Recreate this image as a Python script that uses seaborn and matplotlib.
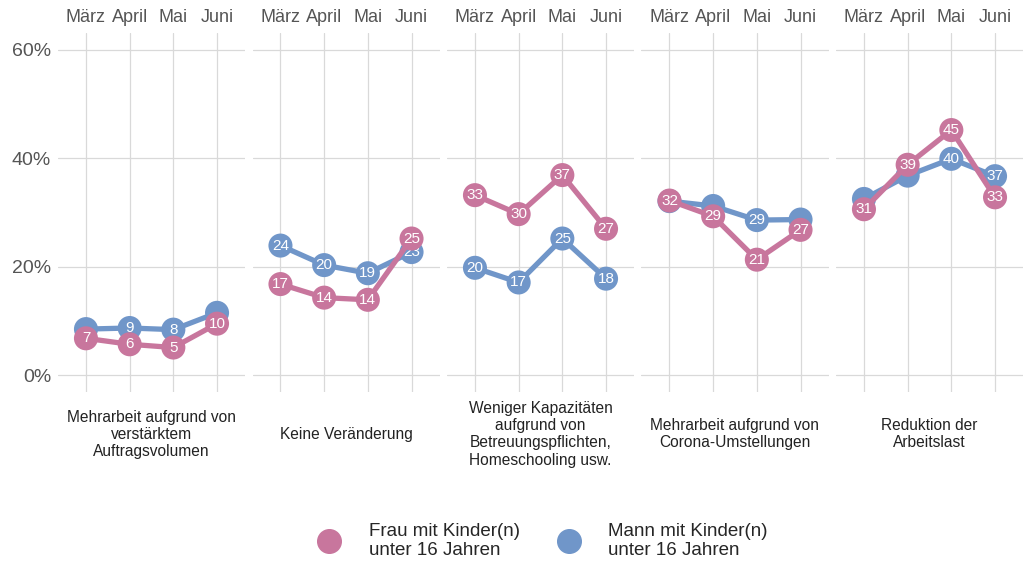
import pandas as pd
import seaborn as sns
import matplotlib.pyplot as plt
from matplotlib.lines import Line2D

# ------------------------------------------------------------
# Daten
# ------------------------------------------------------------
monate = ["März", "April", "Mai", "Juni"]
kategorien = [
    "Mehrarbeit aufgrund von\nverstärktem\nAuftragsvolumen",
    "Keine Veränderung",
    "Weniger Kapazitäten\naufgrund von\nBetreuungspflichten,\nHomeschooling usw.",
    "Mehrarbeit aufgrund von\nCorona-Umstellungen",
    "Reduktion der\nArbeitslast",
]
gruppen = ["Frau mit Kinder(n)\nunter 16 Jahren", "Mann mit Kinder(n)\nunter 16 Jahren"]

frau = [
    [6.8, 5.7, 5.1, 9.5],
    [16.8, 14.3, 13.9, 25.2],
    [33.2, 29.7, 36.9, 27.0],
    [32.2, 29.3, 21.3, 26.8],
    [30.6, 38.8, 45.2, 32.8],
]
mann = [
    [8.5, 8.7, 8.4, 11.5],
    [23.9, 20.3, 18.8, 22.7],
    [19.8, 17.1, 25.2, 17.8],
    [32.1, 31.2, 28.6, 28.7],
    [32.5, 36.8, 39.9, 36.7],
]
# Beschriftungen, die im Original sichtbar sind (None = verdeckt)
frau_labels = [
    [7, 6, 5, 10],
    [17, 14, 14, 25],
    [33, 30, 37, 27],
    [32, 29, 21, 27],
    [31, 39, 45, 33],
]
mann_labels = [
    [None, 9, 8, None],
    [24, 20, 19, 23],
    [20, 17, 25, 18],
    [None, None, 29, None],
    [None, None, 40, 37],
]

farben = {gruppen[0]: "#C8769D", gruppen[1]: "#7096C9"}

rows = []
for k, kat in enumerate(kategorien):
    for m in range(len(monate)):
        rows.append({"kategorie": kat, "monat": m, "gruppe": gruppen[1],
                     "wert": mann[k][m], "label": mann_labels[k][m]})
        rows.append({"kategorie": kat, "monat": m, "gruppe": gruppen[0],
                     "wert": frau[k][m], "label": frau_labels[k][m]})
df = pd.DataFrame(rows)

# ------------------------------------------------------------
# Plot
# ------------------------------------------------------------
sns.set_style("white")
plt.rcParams["font.family"] = ["Liberation Sans", "DejaVu Sans"]

fig = plt.figure(figsize=(10.23, 5.65), dpi=100)
links, breite, schritt = 58 / 1023, 187 / 1023, 194.5 / 1023
unten, hoehe = 1 - 392 / 565, (392 - 33) / 565

for k, kat in enumerate(kategorien):
    ax = fig.add_axes([links + k * schritt, unten, breite, hoehe])
    teil = df[df["kategorie"] == kat]
    z = 2
    # erst Mann, dann Frau darüber
    for g in [gruppen[1], gruppen[0]]:
        d = teil[teil["gruppe"] == g]
        sns.lineplot(data=d, x="monat", y="wert", color=farben[g], linewidth=3.8,
                     ax=ax, legend=False, zorder=z)
        sns.scatterplot(data=d, x="monat", y="wert", color=farben[g], s=300,
                        edgecolor="none", ax=ax, legend=False, zorder=z + 1)
        for x, y, lab in zip(d["monat"], d["wert"], d["label"]):
            if pd.notna(lab):
                ax.text(x, y, f"{int(lab)}", color="white", fontsize=11,
                        ha="center", va="center", zorder=z + 2)
        z += 3

    ax.set_xlim(-0.64, 3.64)
    ax.set_ylim(-3.1, 63.1)
    ax.set_xticks(range(4))
    ax.set_xticklabels(monate, fontsize=13)
    ax.xaxis.tick_top()
    ax.set_yticks([0, 20, 40, 60])
    if k == 0:
        ax.set_yticklabels(["0%", "20%", "40%", "60%"], fontsize=14)
    else:
        ax.set_yticklabels([])
    ax.tick_params(axis="both", length=0, colors="#555555", pad=5)
    ax.set_xlabel("")
    ax.set_ylabel("")
    ax.grid(True, color="#D9D9D9", linewidth=0.9)
    for s in ax.spines.values():
        s.set_visible(False)
    ax.text(0.5, -0.118, kat, transform=ax.transAxes, ha="center", va="center",
            fontsize=11.2, color="#222222", linespacing=1.18)

handles = [Line2D([], [], marker="o", linestyle="none", markersize=17,
                  color=farben[g]) for g in gruppen]
fig.legend(handles, gruppen, loc="center", bbox_to_anchor=(0.527, 1 - 541 / 565),
           ncol=2, frameon=False, fontsize=13.5, handletextpad=1.1, columnspacing=1.6,
           labelspacing=0)

plt.savefig("out.png", dpi=100)
